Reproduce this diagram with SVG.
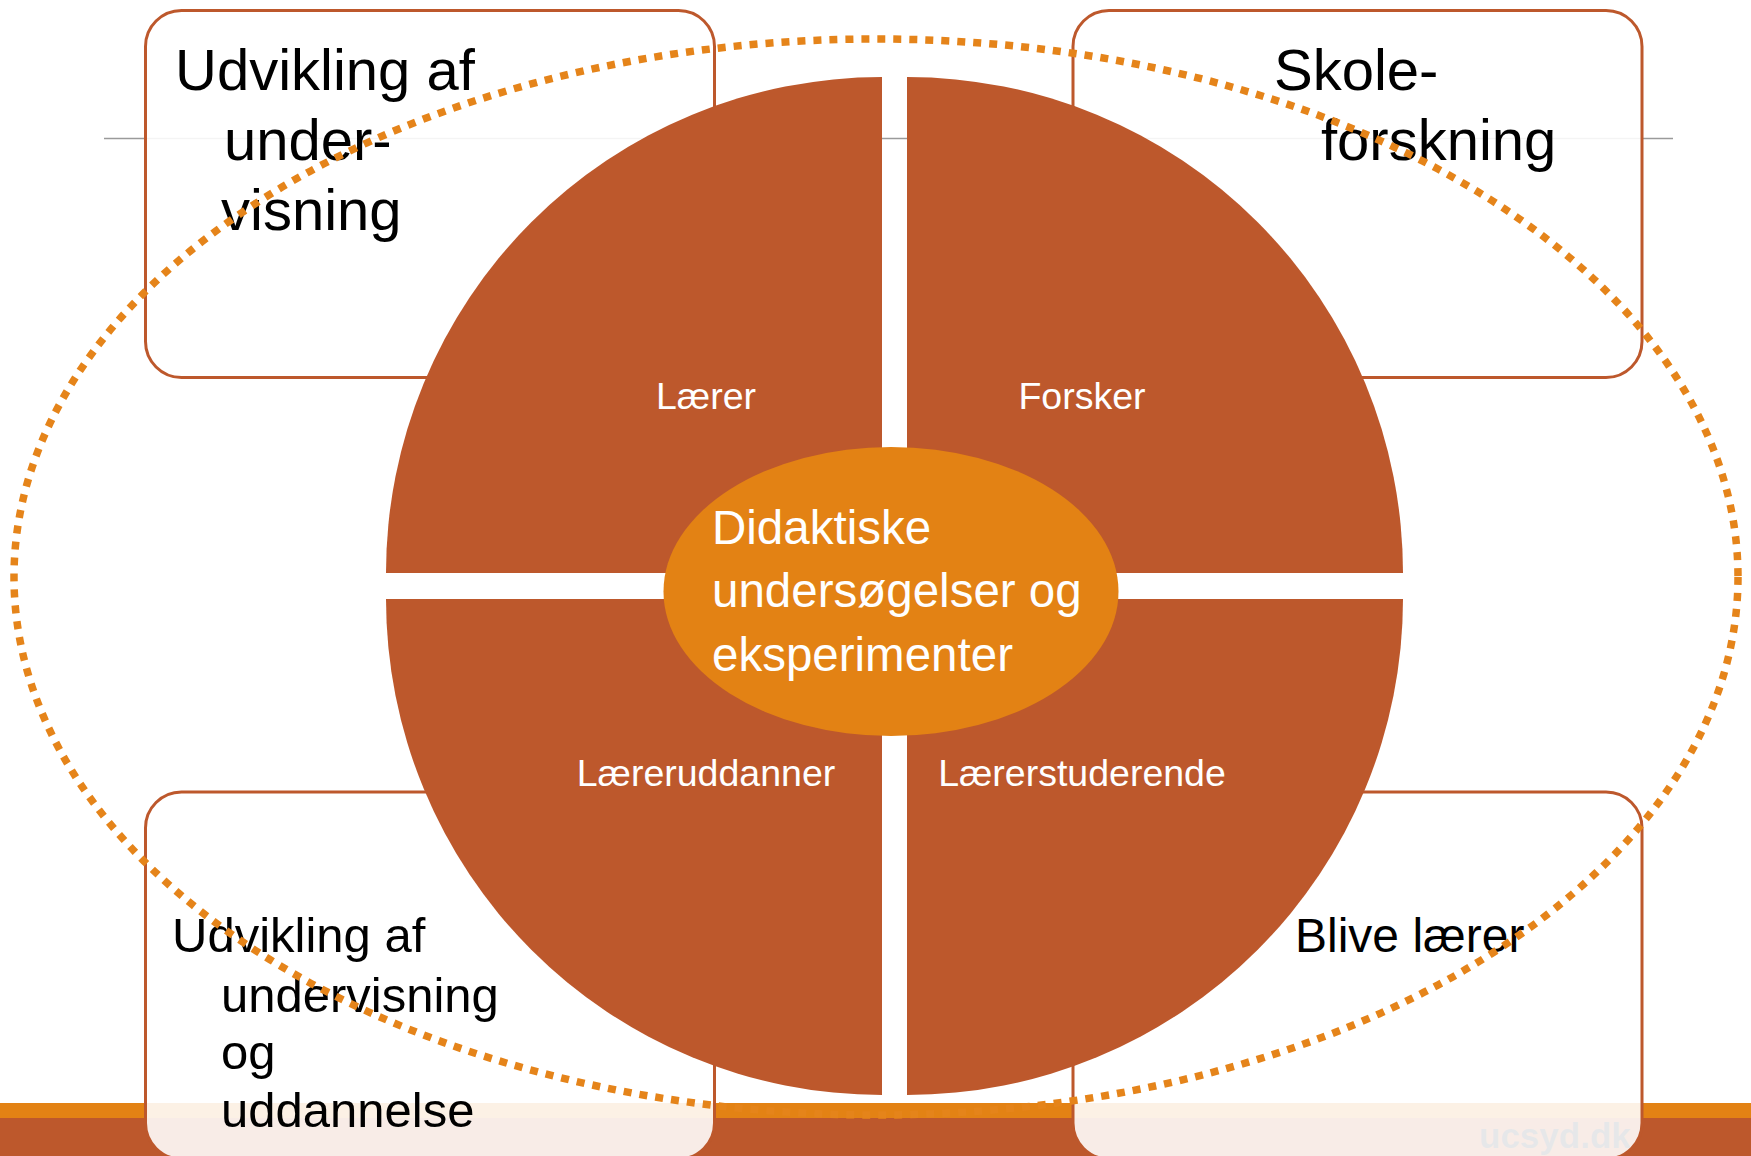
<svg xmlns="http://www.w3.org/2000/svg" width="1751" height="1156" viewBox="0 0 1751 1156">
<style>
.box{fill:#ffffff;fill-opacity:0.89;stroke:#BD582C;stroke-width:3}
.btxt{font-family:"Liberation Sans",Arial,sans-serif;fill:#000000}
.q{fill:#BD582C}
.qlbl{font-family:"Liberation Sans",Arial,sans-serif;font-size:37.5px;fill:#ffffff;text-anchor:middle}
.ctxt{font-family:"Liberation Sans",Arial,sans-serif;font-size:47.5px;fill:#ffffff}
</style>
<rect x="0" y="0" width="1751" height="1156" fill="#ffffff"/>
<line x1="104" y1="138.5" x2="1673" y2="138.5" stroke="#9A9A9A" stroke-width="1.5"/>
<rect x="0" y="1103" width="1751" height="15" fill="#E38214"/>
<rect x="0" y="1118" width="1751" height="38" fill="#BD582C"/>
<text x="1479" y="1148" font-family="'Liberation Sans',Arial,sans-serif" font-weight="bold" font-size="35" fill="#1B2A35">ucsyd.dk</text>

<g id="box-top-left">
<rect class="box" x="145.5" y="10.5" width="569" height="367" rx="36" ry="36"/>
<text class="btxt" font-size="58"><tspan x="175" y="90">Udvikling af</tspan><tspan x="224" y="160">under-</tspan><tspan x="221" y="230">visning</tspan></text>
</g>
<g id="box-top-right">
<rect class="box" x="1073" y="10.5" width="569" height="367" rx="36" ry="36"/>
<text class="btxt" font-size="58"><tspan x="1274" y="90">Skole-</tspan><tspan x="1321" y="160">forskning</tspan></text>
</g>
<g id="box-bottom-left">
<rect class="box" x="145.5" y="792" width="569" height="367" rx="36" ry="36"/>
<text class="btxt" font-size="49"><tspan x="172" y="952">Udvikling af</tspan><tspan x="221" y="1012">undervisning</tspan><tspan x="221" y="1069">og</tspan><tspan x="221" y="1127">uddannelse</tspan></text>
</g>
<g id="box-bottom-right">
<rect class="box" x="1073" y="792" width="569" height="367" rx="36" ry="36"/>
<text class="btxt" font-size="48" x="1295" y="952">Blive lærer</text>
</g>

<g id="quarter-laerer">
<path class="q" d="M882 573 L386 573 A496 496 0 0 1 882 77 Z"/>
<text class="qlbl" x="706" y="409">Lærer</text>
</g>
<g id="quarter-forsker">
<path class="q" d="M907 573 L907 77 A496 496 0 0 1 1403 573 Z"/>
<text class="qlbl" x="1082" y="409">Forsker</text>
</g>
<g id="quarter-laereruddanner">
<path class="q" d="M882 599 L882 1095 A496 496 0 0 1 386 599 Z"/>
<text class="qlbl" x="706" y="786">Læreruddanner</text>
</g>
<g id="quarter-laererstuderende">
<path class="q" d="M907 599 L1403 599 A496 496 0 0 1 907 1095 Z"/>
<text class="qlbl" x="1082" y="786">Lærerstuderende</text>
</g>

<g id="center">
<ellipse cx="891" cy="591.5" rx="227.5" ry="144.5" fill="#E38214"/>
<text class="ctxt"><tspan x="712" y="544">Didaktiske</tspan><tspan x="712" y="607">undersøgelser og</tspan><tspan x="712" y="671">eksperimenter</tspan></text>
</g>

<g id="connectors">
<ellipse id="dotted-ring" cx="876" cy="577" rx="862" ry="538" fill="none" stroke="#E5841A" stroke-width="7.5" stroke-dasharray="8 8"/>
</g>
</svg>
